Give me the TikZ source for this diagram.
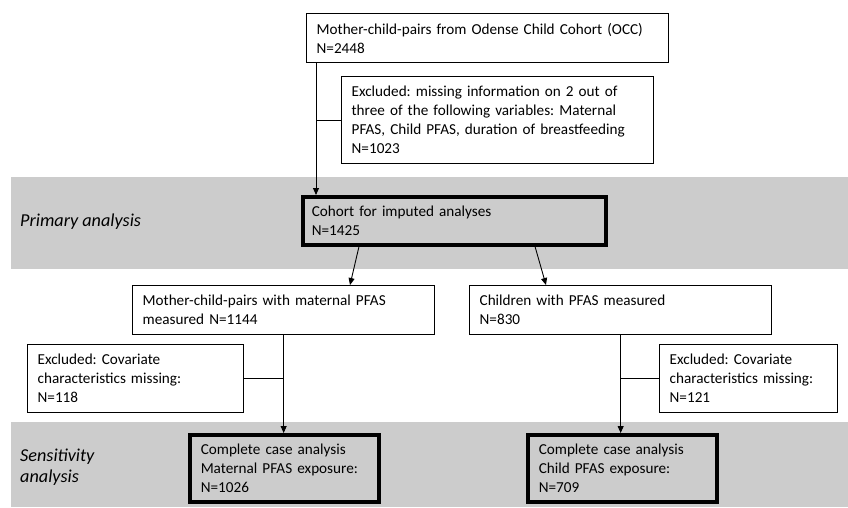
\documentclass[tikz,border=0pt]{standalone}
\usepackage{fontspec}
\setmainfont{Carlito}
\usetikzlibrary{arrows.meta}
\definecolor{bandgray}{RGB}{204,204,204}
\frenchspacing
\begin{document}
\begin{tikzpicture}[x=1pt,y=-1pt,
  box/.style={draw, line width=1.3pt, fill=white, anchor=north west, align=left,
    inner xsep=10pt, inner ysep=0pt, font=\fontsize{15.2}{19}\selectfont},
  thickbox/.style={box, line width=3.5pt, fill=bandgray},
  conn/.style={line width=0.9pt},
  arr/.style={conn, -{Triangle[length=7pt,width=6pt]}},
  lab/.style={anchor=west, align=left, inner sep=0pt, font=\fontsize{18.2}{21}\selectfont\itshape}]
\useasboundingbox (0,0) rectangle (848,507);
\fill[white] (0,0) rectangle (848,507);
\fill[bandgray] (11,177) rectangle (848,269);
\fill[bandgray] (11,422) rectangle (848,507);

\node[lab] (prim) at (20,222) {Primary analysis};
\node[lab] (sens) at (20,467) {Sensitivity\\analysis};

\node[box, minimum width=362pt, text width=342pt, minimum height=49pt] (top) at (306,13)
  {Mother-child-pairs from Odense Child Cohort (OCC)\\N=2448};
\node[box, minimum width=312pt, text width=292pt, minimum height=87pt] (excl1) at (341,76)
  {Excluded: missing information on 2 out of\\three of the following variables: Maternal\\PFAS, Child PFAS, duration of breastfeeding\\N=1023};
\node[thickbox, minimum width=303pt, text width=285pt, inner xsep=9pt, minimum height=48pt] (cohort) at (301,195)
  {Cohort for imputed analyses\\N=1425};
\node[box, minimum width=302pt, text width=282pt, minimum height=49pt] (mother) at (132,285)
  {Mother-child-pairs with maternal PFAS\\measured N=1144};
\node[box, minimum width=302pt, text width=282pt, minimum height=49pt] (children) at (469,285)
  {Children with PFAS measured\\N=830};
\node[box, minimum width=216pt, text width=196pt, minimum height=68pt] (exclL) at (27,344)
  {Excluded: Covariate\\characteristics missing:\\N=118};
\node[box, minimum width=178pt, text width=158pt, minimum height=68pt] (exclR) at (659,344)
  {Excluded: Covariate\\characteristics missing:\\N=121};
\node[thickbox, minimum width=189pt, text width=167pt, inner xsep=11pt, minimum height=67pt] (compL) at (188,433)
  {Complete case analysis\\Maternal PFAS exposure:\\N=1026};
\node[thickbox, minimum width=189pt, text width=167pt, inner xsep=11pt, minimum height=67pt] (compR) at (526,433)
  {Complete case analysis\\Child PFAS exposure:\\N=709};

\draw[arr] ([xshift=10pt]top.south west) coordinate (a1) -- (a1 |- cohort.north);
\draw[conn] (excl1.west) -- (excl1.west -| a1);
\draw[arr] ([xshift=58pt]cohort.south west) -- ([xshift=218pt]mother.north west);
\draw[arr] ([xshift=234pt]cohort.south west) -- ([xshift=77pt]children.north west);
\draw[arr] (mother.south) -- (mother.south |- compL.north);
\draw[conn] (exclL.east) -- (exclL.east -| mother.south);
\draw[arr] (children.south) -- (children.south |- compR.north);
\draw[conn] (exclR.west) -- (exclR.west -| children.south);
\end{tikzpicture}
\end{document}
